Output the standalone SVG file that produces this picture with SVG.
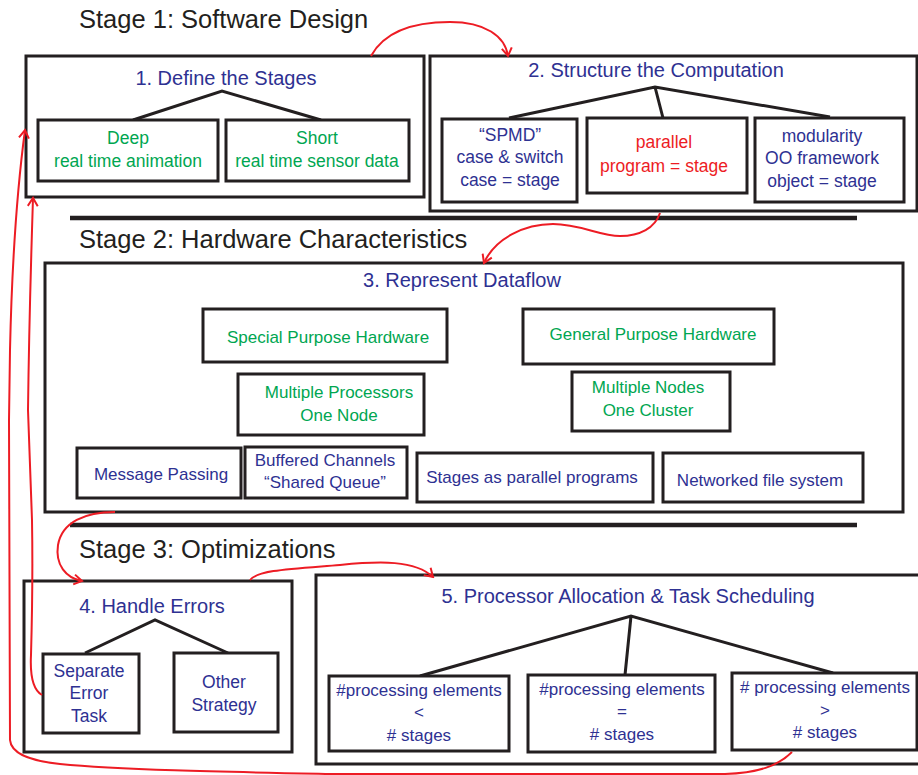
<svg xmlns="http://www.w3.org/2000/svg" width="918" height="775" viewBox="0 0 918 775">
<defs>
<style>
.bx{fill:#fff;stroke:#231f20;stroke-width:3}
.tr{fill:none;stroke:#231f20;stroke-width:3}
.sep{stroke:#231f20;stroke-width:4.5}
.st{font-family:"Liberation Sans",Arial,sans-serif;font-size:25.5px;fill:#231f20}
.h{font-family:"Liberation Sans",Arial,sans-serif;font-size:20px;fill:#2e3192;text-anchor:middle}
.b{font-family:"Liberation Sans",Arial,sans-serif;font-size:17.5px;fill:#2e3192;text-anchor:middle}
.g{font-family:"Liberation Sans",Arial,sans-serif;font-size:17.5px;fill:#00a651;text-anchor:middle}
.r{font-family:"Liberation Sans",Arial,sans-serif;font-size:17.5px;fill:#ed1c24;text-anchor:middle}
.c{fill:none;stroke:#ed1c24;stroke-width:2}
</style>
<marker id="ah" markerUnits="userSpaceOnUse" markerWidth="12" markerHeight="12" refX="10" refY="6" orient="auto">
<path d="M2,1 L10,6 L2,11" fill="none" stroke="#ed1c24" stroke-width="2"/>
</marker>
</defs>
<rect width="918" height="775" fill="#fff"/>

<text class="st" x="79" y="28">Stage 1: Software Design</text>
<text class="st" x="79" y="248">Stage 2: Hardware Characteristics</text>
<text class="st" x="79" y="558">Stage 3: Optimizations</text>
<line class="sep" x1="70" y1="218" x2="857" y2="218"/>
<line class="sep" x1="70" y1="525" x2="857" y2="525"/>

<g id="box1">
<rect class="bx" x="26" y="56" width="398" height="141"/>
<text class="h" x="226" y="85">1. Define the Stages</text>
<path class="tr" d="M133,120 L222,91 L321,120"/>
</g>
<g id="deep">
<rect class="bx" x="38" y="120" width="180" height="61"/>
<text class="g" x="128" y="144">Deep</text>
<text class="g" x="128" y="167">real time animation</text>
</g>
<g id="short">
<rect class="bx" x="226" y="120" width="183" height="61"/>
<text class="g" x="317" y="144">Short</text>
<text class="g" x="317" y="167">real time sensor data</text>
</g>

<g id="box2">
<rect class="bx" x="430" y="56" width="487" height="155"/>
<text class="h" x="656" y="77">2. Structure the Computation</text>
<path class="tr" d="M509,118 L655,87 L830,117 M655,87 L663,118"/>
</g>
<g id="spmd">
<rect class="bx" x="442" y="119" width="135" height="83"/>
<text class="b" x="510" y="141">“SPMD”</text>
<text class="b" x="510" y="163">case &amp; switch</text>
<text class="b" x="510" y="186">case = stage</text>
</g>
<g id="parallel">
<rect class="bx" x="587" y="118" width="160" height="75"/>
<text class="r" x="664" y="148">parallel</text>
<text class="r" x="664" y="172">program = stage</text>
</g>
<g id="modularity">
<rect class="bx" x="755" y="118" width="149" height="84"/>
<text class="b" x="822" y="142">modularity</text>
<text class="b" x="822" y="164">OO framework</text>
<text class="b" x="822" y="187">object = stage</text>
</g>

<g id="box3">
<rect class="bx" x="45" y="263" width="858" height="249"/>
<text class="h" x="462" y="287">3. Represent Dataflow</text>
</g>
<g id="special">
<rect class="bx" x="203" y="309" width="244" height="53"/>
<text class="g" x="328" y="343" style="font-size:17px">Special Purpose Hardware</text>
</g>
<g id="general">
<rect class="bx" x="523" y="309" width="251" height="55"/>
<text class="g" x="653" y="340" style="font-size:17px">General Purpose Hardware</text>
</g>
<g id="multiproc">
<rect class="bx" x="238" y="374" width="186" height="61"/>
<text class="g" x="339" y="398" style="font-size:17px">Multiple Processors</text>
<text class="g" x="339" y="421" style="font-size:17px">One Node</text>
</g>
<g id="multinodes">
<rect class="bx" x="572" y="372" width="158" height="59"/>
<text class="g" x="648" y="393" style="font-size:17px">Multiple Nodes</text>
<text class="g" x="648" y="416" style="font-size:17px">One Cluster</text>
</g>
<g id="message">
<rect class="bx" x="77" y="448" width="164" height="50"/>
<text class="b" x="161" y="480" style="font-size:17px">Message Passing</text>
</g>
<g id="buffered">
<rect class="bx" x="245" y="447" width="162" height="51"/>
<text class="b" x="325" y="466" style="font-size:17px">Buffered Channels</text>
<text class="b" x="325" y="488" style="font-size:17px">“Shared Queue”</text>
</g>
<g id="stages">
<rect class="bx" x="417" y="453" width="236" height="49"/>
<text class="b" x="532" y="483" style="font-size:17px">Stages as parallel programs</text>
</g>
<g id="networked">
<rect class="bx" x="663" y="453" width="200" height="49"/>
<text class="b" x="760" y="486" style="font-size:17px">Networked file system</text>
</g>

<g id="box4">
<rect class="bx" x="24" y="581" width="268" height="171"/>
<text class="h" x="152" y="613">4. Handle Errors</text>
<path class="tr" d="M85,653 L155,620 L228,653"/>
</g>
<g id="separate">
<rect class="bx" x="43" y="654" width="96" height="79"/>
<text class="b" x="89" y="677">Separate</text>
<text class="b" x="89" y="699">Error</text>
<text class="b" x="89" y="722">Task</text>
</g>
<g id="other">
<rect class="bx" x="174" y="653" width="104" height="79"/>
<text class="b" x="224" y="688">Other</text>
<text class="b" x="224" y="711">Strategy</text>
</g>

<g id="box5">
<rect class="bx" x="316" y="575" width="620" height="189"/>
<text class="h" x="628" y="603">5. Processor Allocation &amp; Task Scheduling</text>
<path class="tr" d="M420,676 L631,616 L833,673 M631,616 L625,675"/>
</g>
<g id="less">
<rect class="bx" x="329" y="676" width="180" height="75"/>
<text class="b" x="419" y="696" style="font-size:17px">#processing elements</text>
<text class="b" x="419" y="718" style="font-size:17px">&lt;</text>
<text class="b" x="419" y="741" style="font-size:17px"># stages</text>
</g>
<g id="equal">
<rect class="bx" x="528" y="675" width="187" height="77"/>
<text class="b" x="622" y="695" style="font-size:17px">#processing elements</text>
<text class="b" x="622" y="717" style="font-size:17px">=</text>
<text class="b" x="622" y="740" style="font-size:17px"># stages</text>
</g>
<g id="greater">
<rect class="bx" x="732" y="673" width="185" height="77"/>
<text class="b" x="825" y="693" style="font-size:17px"># processing elements</text>
<text class="b" x="825" y="716" style="font-size:17px">&gt;</text>
<text class="b" x="825" y="738" style="font-size:17px"># stages</text>
</g>

<g id="connectors">
<path class="c" marker-end="url(#ah)" d="M371,56 C383,34 410,22 450,22 C485,22 505,36 508,56"/>
<path class="c" marker-end="url(#ah)" d="M660,213 C655,228 640,236 620,236 C600,236 580,224 553,224 C525,224 495,238 484,263"/>
<path class="c" marker-end="url(#ah)" d="M115,512 C85,512 62,522 58,545 C55,565 66,578 82,581"/>
<path class="c" marker-end="url(#ah)" d="M250,580 C258,570 290,569 340,565 C380,561 415,560 433,577"/>
<path class="c" marker-end="url(#ah)" d="M792,752 C778,766 758,773 725,774 L330,774 C230,772 120,770 60,764 C25,760 11,752 10,740 L9,420 L10,350 C12,260 17,190 25,130"/>
<path class="c" marker-end="url(#ah)" d="M42,695 C33,690 30,675 31,655 C32,620 33,580 32,520 L28,410 C29,330 31,260 33,198"/>
</g>
</svg>
